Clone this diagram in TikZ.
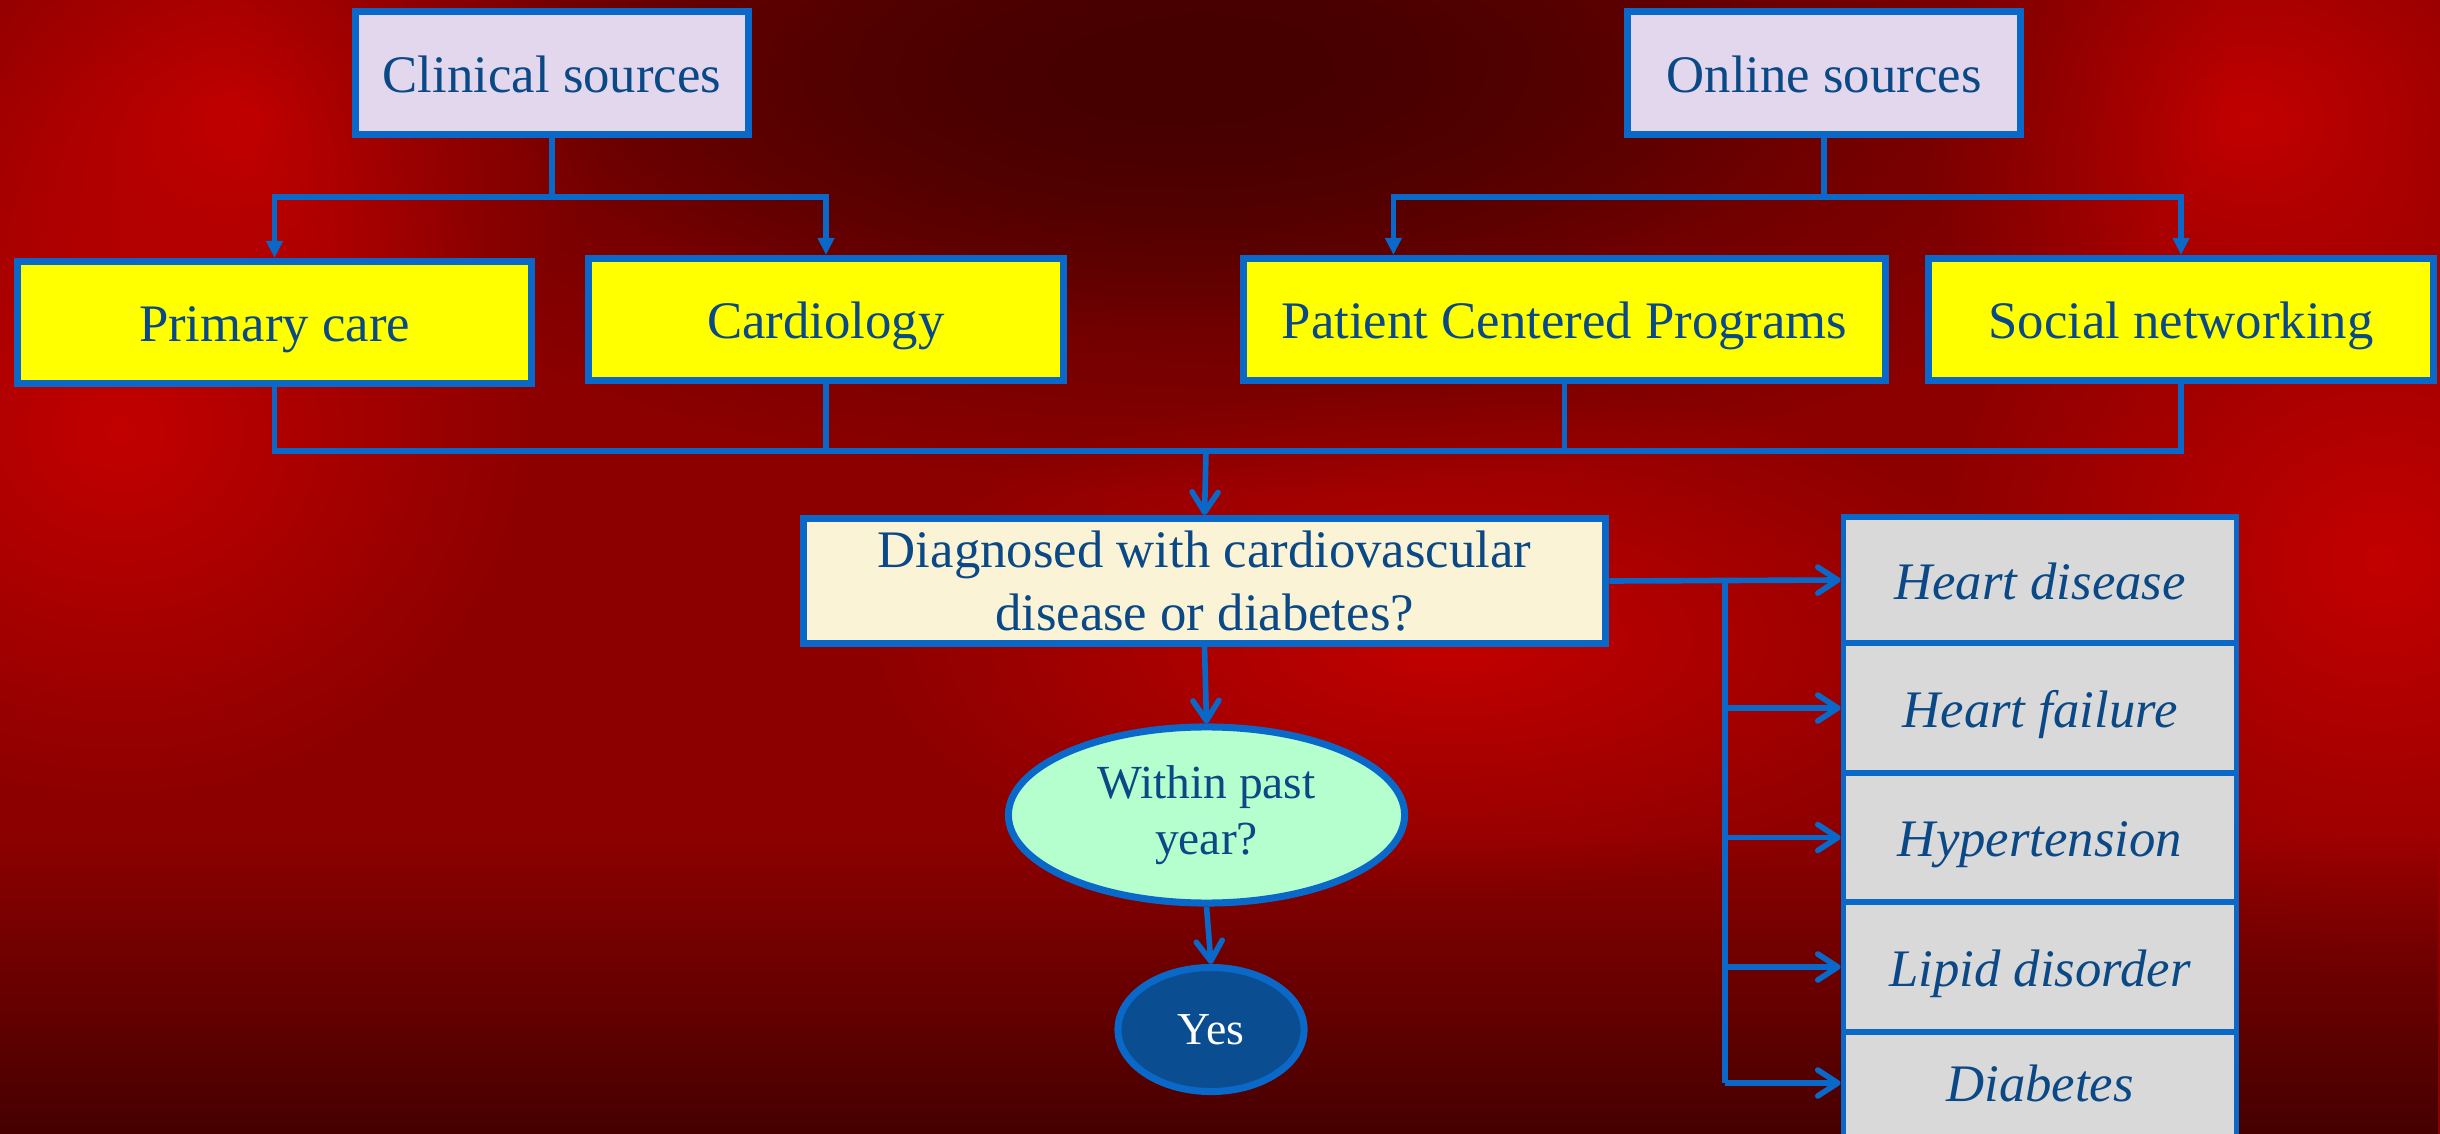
\documentclass[tikz,border=0pt]{standalone}
\usepackage{fontspec}
\setmainfont{Liberation Serif}
\usetikzlibrary{arrows.meta,shapes.geometric,fadings}
\definecolor{lineblue}{RGB}{10,104,200}
\definecolor{txtblue}{RGB}{10,72,134}
\definecolor{lav}{RGB}{227,215,238}
\definecolor{yel}{RGB}{255,255,0}
\definecolor{cream}{RGB}{250,243,213}
\definecolor{mint}{RGB}{180,255,205}
\definecolor{yesblue}{RGB}{10,78,145}
\definecolor{boxgrey}{RGB}{217,217,217}
\definecolor{bgbase}{RGB}{140,0,0}
\definecolor{bgbright}{RGB}{195,0,0}
\definecolor{bgdark}{RGB}{70,0,0}
\tikzfading[name=blob, inner color=transparent!0, outer color=transparent!100]
\tikzfading[name=fadeup, top color=transparent!100, bottom color=transparent!0]
\begin{document}
\begin{tikzpicture}[x=0.01cm,y=-0.01cm,
  bx/.style={draw=lineblue,line width=2pt,text=txtblue,inner sep=0pt,
    font=\fontsize{15}{17.7}\selectfont},
  box/.style={bx,text height=0.38cm,text depth=0cm},
  srcbox/.style={box,fill=lav,minimum width=3.92cm,minimum height=1.23cm},
  ybox/.style={box,fill=yel,minimum height=1.22cm},
  gbox/.style={box,fill=boxgrey,line width=1.6pt,minimum width=3.93cm,
    font=\fontsize{15}{17.7}\selectfont\itshape},
  oval/.style={ellipse,draw=lineblue,line width=2pt,inner sep=0pt},
  conn/.style={draw=lineblue,line width=1.6pt},
  tri/.tip={Triangle[length=1.7mm,width=1.6mm]},
  barb/.tip={Straight Barb[length=2mm,width=2.6mm,round]}
]
\useasboundingbox (0,0) rectangle (2440,1134);
\clip (0,0) rectangle (2440,1134);
% background
\fill[bgbase] (0,0) rectangle (2440,1134);
\fill[bgbright,path fading=blob] (120,430) ellipse [x radius=420,y radius=380];
\fill[bgbright,path fading=blob] (2380,560) ellipse [x radius=450,y radius=420];
\fill[bgbright,path fading=blob] (1450,640) ellipse [x radius=600,y radius=260];
\fill[bgbright,path fading=blob] (250,120) ellipse [x radius=360,y radius=260];
\fill[bgbright,path fading=blob] (2250,120) ellipse [x radius=340,y radius=260];
\fill[bgdark,path fading=blob] (1230,60) ellipse [x radius=1000,y radius=430];
\fill[bgdark,path fading=blob] (1150,80) ellipse [x radius=650,y radius=250];
\fill[bgdark,path fading=fadeup] (0,840) rectangle (2440,1134);
% nodes
\node[srcbox] (clin) at (552,73) {Clinical sources};
\node[srcbox] (onl) at (1824,73) {Online sources};
\node[ybox,minimum width=5.14cm] (prim) at (274.5,322.5) {Primary care};
\node[ybox,minimum width=4.75cm] (card) at (826,319.5) {Cardiology};
\node[ybox,minimum width=6.42cm] (pcp) at (1564.5,319.5) {Patient Centered Programs};
\node[ybox,minimum width=5.05cm] (soc) at (2181,319.5) {Social networking};
\node[bx,fill=cream,minimum width=8.02cm,minimum height=1.25cm,align=center] (diag) at (1204.5,581) {Diagnosed with cardiovascular\\disease or diabetes?};
\node[oval,fill=mint,text=txtblue,minimum width=3.96cm,minimum height=1.76cm,align=center,font=\fontsize{13.5}{15.9}\selectfont] (within) at (1206.5,815) {Within past\\year?};
\node[oval,fill=yesblue,text=white,minimum width=1.86cm,minimum height=1.24cm,font=\fontsize{13}{15}\selectfont] (yes) at (1211,1029.5) {Yes};
\node[gbox,minimum height=1.26cm] (g1) at (2040,580) {Heart disease};
\node[gbox,minimum height=1.30cm] (g2) at (2040,708) {Heart failure};
\node[gbox,minimum height=1.29cm] (g3) at (2040,837.5) {Hypertension};
\node[gbox,minimum height=1.30cm] (g4) at (2040,967) {Lipid disorder};
\node[gbox,minimum height=1.29cm] (g5) at (2040,1096.5) {\raisebox{0.145cm}[\height][\depth]{Diabetes}};
% connectors
\coordinate (cbus) at (552,197);
\coordinate (obus) at (1824,197);
\coordinate (bbus) at (1206,451);
\coordinate (rx) at (1725,0);
\coordinate (g5in) at ([yshift=0.135cm]g5.west);
\coordinate (pcpin) at ([xshift=-1.71cm]pcp.north);
\draw[conn] (clin.south) -- (cbus);
\draw[conn,-tri] (cbus) -| (prim.north);
\draw[conn,-tri] (cbus) -| (card.north);
\draw[conn] (onl.south) -- (obus);
\draw[conn,-tri] (obus) -| (pcpin);
\draw[conn,-tri] (obus) -| (soc.north);
\draw[conn] (prim.south) |- (soc.south |- bbus) -- (soc.south);
\draw[conn] (card.south) -- (card.south |- bbus);
\draw[conn] (pcp.south) -- (pcp.south |- bbus);
\draw[conn,-barb] (bbus) -- (diag.north);
\draw[conn,-barb] (diag.south) -- (within.north);
\draw[conn,-barb] (within.south) -- (yes.north);
\draw[conn,-barb] (diag.east) -- (g1.west);
\draw[conn] (rx |- diag.east) -- (rx |- g5in);
\foreach \i in {2,3,4} {\draw[conn,-barb] (rx |- g\i.west) -- (g\i.west);}
\draw[conn,-barb] (rx |- g5in) -- (g5in);
\end{tikzpicture}
\end{document}
